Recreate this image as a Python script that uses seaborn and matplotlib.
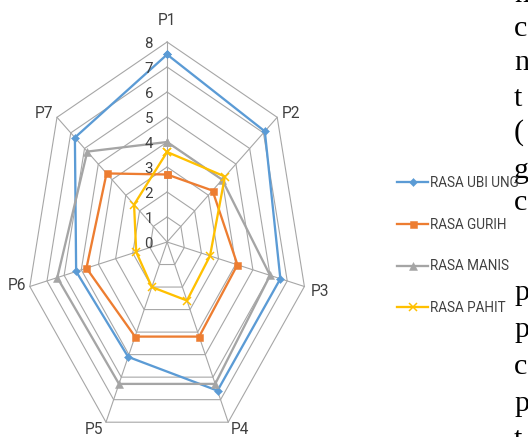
import numpy as np
import pandas as pd
import matplotlib
matplotlib.use('Agg')
import matplotlib.pyplot as plt
import seaborn as sns

# Data
categories = ['P1', 'P2', 'P3', 'P4', 'P5', 'P6', 'P7']
rasa_ubi_ungu = [7.5, 7.1, 6.6, 6.6, 5.1, 5.3, 6.7]
rasa_gurih = [2.7, 3.3, 4.1, 4.2, 4.2, 4.7, 4.4]
rasa_manis = [4.0, 4.0, 6.0, 6.3, 6.3, 6.4, 5.8]
rasa_pahit = [3.6, 4.2, 2.5, 2.6, 2.0, 1.8, 2.4]
series_names = ['RASA UBI UNG', 'RASA GURIH', 'RASA MANIS', 'RASA PAHIT']
ticks = [0, 1, 2, 3, 4, 5, 6, 7, 8]

# cut-off letters of the document text on the right edge (char, baseline px)
side_letters = ['n', 'c', 'n', 't', '(', 'g', 'c', 'p', 'p', 'c', 'p', 't']
side_baselines = [2, 36, 70, 106, 140, 178, 210, 300, 337, 374, 411, 447]

colors = ['#5B9BD5', '#ED7D31', '#A5A5A5', '#FFC000']
markers = ['D', 's', '^', 'x']
msizes = [5.5, 7, 7.5, 8]
grid_color = '#A6A6A6'

narrow = ['Roboto', 'DejaVu Sans']
txt_color = '#404040'

n = len(categories)
angles = np.deg2rad(90 - np.arange(n) * 360 / n)


def to_xy(values):
    """close the polygon and turn radar values into x/y"""
    v = np.append(np.asarray(values, dtype=float), values[0])
    a = np.append(angles, angles[0])
    return v * np.cos(a), v * np.sin(a)


rows = []
for name, vals in zip(series_names, [rasa_ubi_ungu, rasa_gurih, rasa_manis, rasa_pahit]):
    x, y = to_xy(vals)
    for i, (xi, yi) in enumerate(zip(x, y)):
        rows.append({'series': name, 'order': i, 'x': xi, 'y': yi})
df = pd.DataFrame(rows)

W, H = 528, 437
fig = plt.figure(figsize=(W / 72, H / 72), dpi=72)
# axes placed so that the chart is stretched vertically like the original
ax = fig.add_axes([21 / W, 10 / H, 292.2 / W, 390 / H])
ax.set_xlim(-8.3, 8.3)
ax.set_ylim(-7.4, 8.2)
ax.set_axis_off()

# grid rings and spokes
for t in ticks[1:]:
    gx, gy = to_xy([t] * n)
    ax.plot(gx, gy, color=grid_color, lw=1.1, zorder=1)
for a in angles:
    ax.plot([0, 8 * np.cos(a)], [0, 8 * np.sin(a)], color=grid_color, lw=1.1, zorder=1)

for name, c, m, ms in zip(series_names, colors, markers, msizes):
    d = df[df['series'] == name]
    sns.lineplot(data=d, x='x', y='y', sort=False, estimator=None, ax=ax,
                 color=c, lw=2.3, marker=m, markersize=ms, markeredgecolor=c,
                 markeredgewidth=1.5 if m == 'x' else 0.5, label=name, zorder=3)

# tick labels along P1
for t in ticks:
    ax.annotate(str(t), (0, t), xytext=(-14, -2), textcoords='offset points',
                ha='right', va='center', fontsize=15, family=narrow, color=txt_color)

# category labels
label_pos = [((0, 21), 'center'), ((5, 4), 'left'), ((6, -5), 'left'),
             ((3, -7), 'left'), ((-3, -7), 'right'), ((-4, 1), 'right'),
             ((-4, 4), 'right')]
for cat, a, (off, ha) in zip(categories, angles, label_pos):
    ax.annotate(cat, (8 * np.cos(a), 8 * np.sin(a)), xytext=off,
                textcoords='offset points', ha=ha, va='center',
                fontsize=15.5, family=narrow, color=txt_color, annotation_clip=False)

handles, labels = ax.get_legend_handles_labels()
ax.get_legend().remove()
fig.legend(handles, labels, loc='upper left', bbox_to_anchor=(397 / W, 1 - 176 / H),
           frameon=False, borderpad=0, borderaxespad=0, handlelength=2.3,
           handletextpad=0.15, labelspacing=2.05, prop={'family': narrow, 'size': 13.5},
           labelcolor=txt_color)

for ch, b in zip(side_letters, side_baselines):
    fig.text(514 / W, 1 - b / H, ch, fontsize=30, family=['Liberation Serif', 'DejaVu Serif'],
             va='baseline', ha='left', color='black')

fig.savefig('out.png', dpi=72)
